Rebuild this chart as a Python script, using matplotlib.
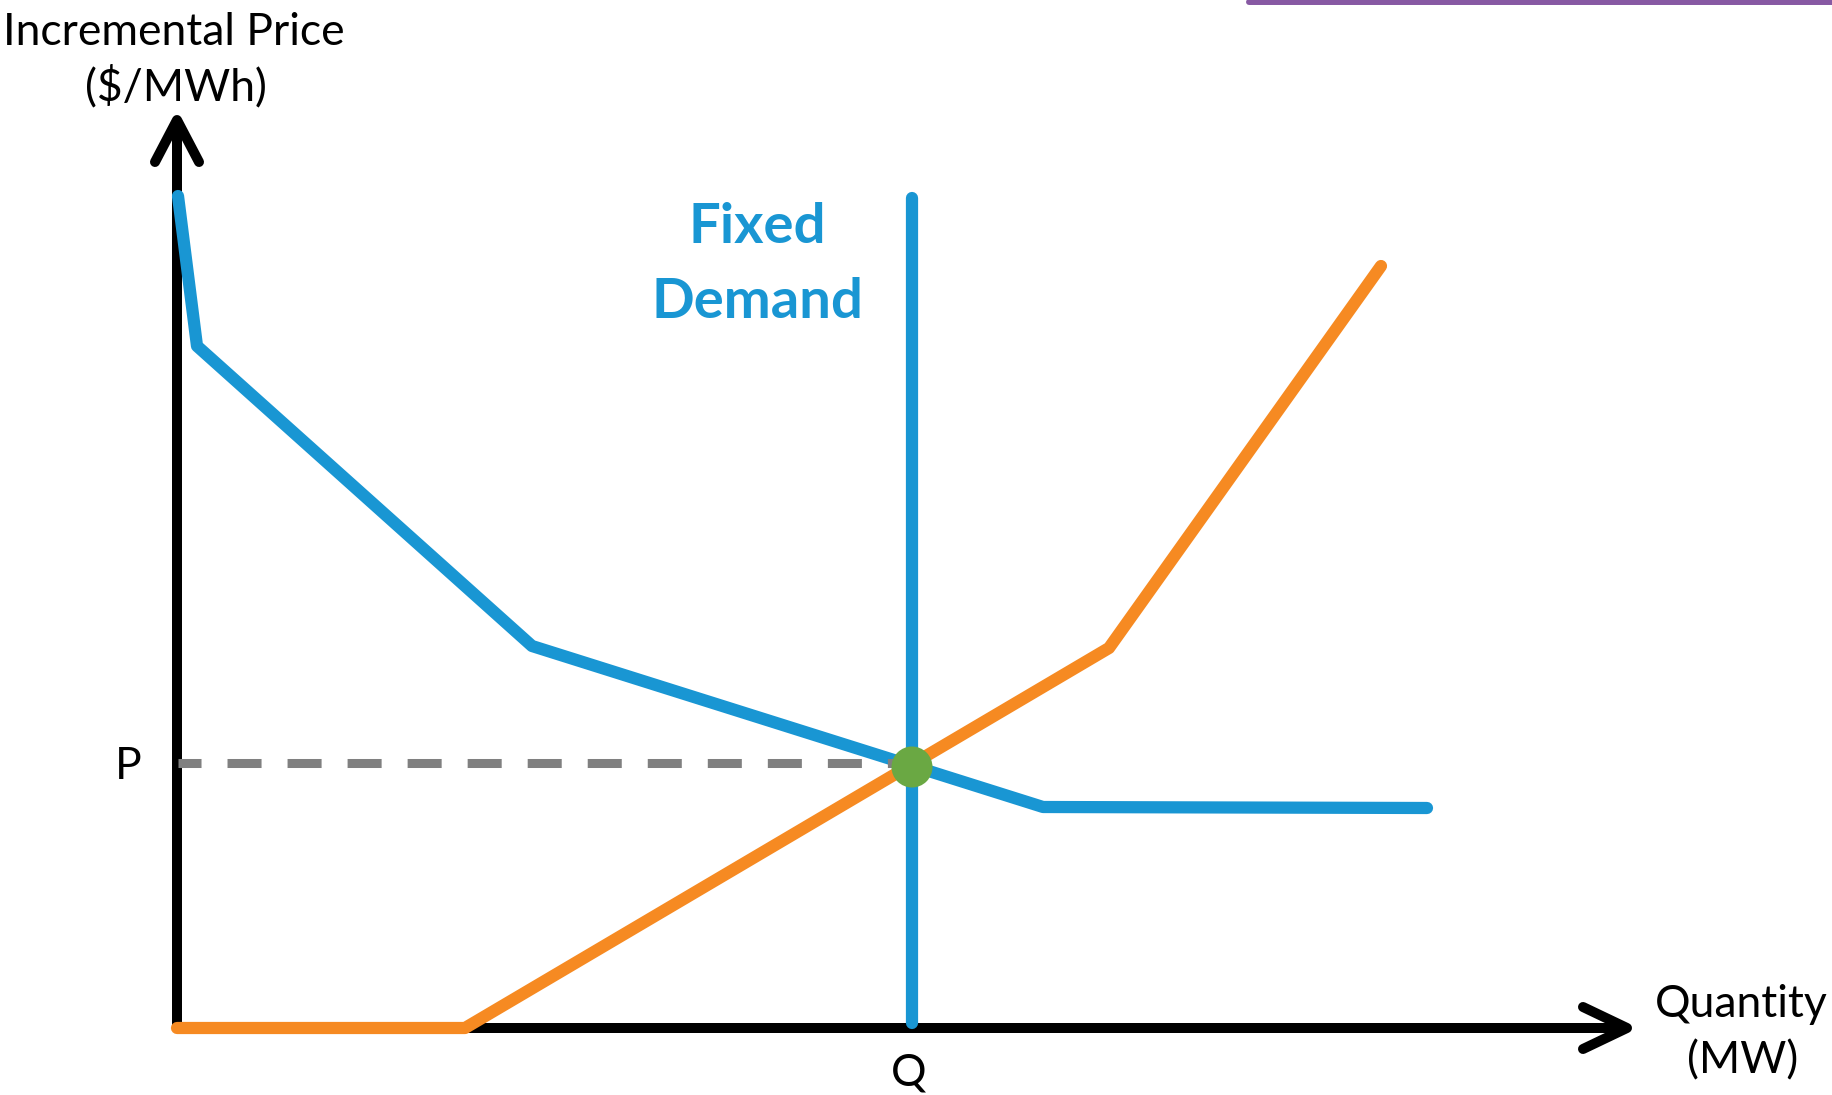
"""Supply/demand sketch: flexible demand, fixed demand and supply curve."""
import matplotlib
matplotlib.use("Agg")
import matplotlib.pyplot as plt

BLUE = "#1996D3"
ORANGE = "#F68A22"
GREEN = "#6AA843"
GRAY = "#808080"
PURPLE = "#8759A3"

# curve vertices (quantity, price) in arbitrary sketch units, origin at axes corner
demand_q = [1, 20, 355, 866, 1250]
demand_p = [832, 682, 382, 221, 220]
supply_q = [0, 288, 932, 1204]
supply_p = [0, 0, 380, 762]
fixed_q = 735
fixed_p = [5, 830]
clear_q, clear_p = 735, 262

x_axis_end = 1450
y_axis_end = 908

plt.rcParams["font.family"] = ["Lato", "DejaVu Sans"]
fig = plt.figure(figsize=(18.32, 10.95), dpi=100)
ax = fig.add_axes([0, 0, 1, 1])
ax.set_xlim(-177, 1655)
ax.set_ylim(-67, 1028)
ax.axis("off")

axis_kw = dict(color="black", linewidth=7.2, solid_capstyle="round",
               solid_joinstyle="round", zorder=1)
ax.plot([0, 0], [0, y_axis_end - 4], **axis_kw)
ax.plot([0, x_axis_end - 4], [0, 0], **axis_kw)
ax.plot([-22, 0, 22], [866, y_axis_end, 866], **axis_kw)
ax.plot([1406, x_axis_end, 1406], [21, 0, -21], **axis_kw)

line_kw = dict(linewidth=8.8, solid_capstyle="round", solid_joinstyle="round")
ax.plot(supply_q, supply_p, color=ORANGE, zorder=3, **line_kw)
ax.plot(demand_q, demand_p, color=BLUE, zorder=2, **line_kw)
ax.plot([fixed_q, fixed_q], fixed_p, color=BLUE, zorder=4, **line_kw)

ax.plot([1, clear_q], [clear_p + 3, clear_p + 3], color=GRAY, linewidth=6.5,
        linestyle=(1.22, (3.77, 2.88)), dash_capstyle="butt", zorder=2.5)
ax.scatter([clear_q], [clear_p - 1], s=(41 * 0.72) ** 2, color=GREEN,
           edgecolors="none", zorder=5)

# decorative accent bar at top right
ax.plot([1072, 1700], [1026, 1026], color=PURPLE, linewidth=4.3,
        solid_capstyle="round", zorder=1)

ax.text(-3, 983, "Incremental Price", fontsize=32, ha="center", va="baseline")
ax.text(-1, 928, "($/MWh)", fontsize=32, ha="center", va="baseline")
ax.text(1564, 11, "Quantity", fontsize=32, ha="center", va="baseline")
ax.text(1566, -45, "(MW)", fontsize=32, ha="center", va="baseline")
ax.text(-49, 249, "P", fontsize=32, ha="center", va="baseline")
ax.text(732, -58, "Q", fontsize=32, ha="center", va="baseline")
ax.text(580, 785, "Fixed", fontsize=40.5, fontweight="bold", color=BLUE,
        ha="center", va="baseline")
ax.text(580, 710, "Demand", fontsize=40.5, fontweight="bold", color=BLUE,
        ha="center", va="baseline")

fig.savefig("out.png", dpi=100)
